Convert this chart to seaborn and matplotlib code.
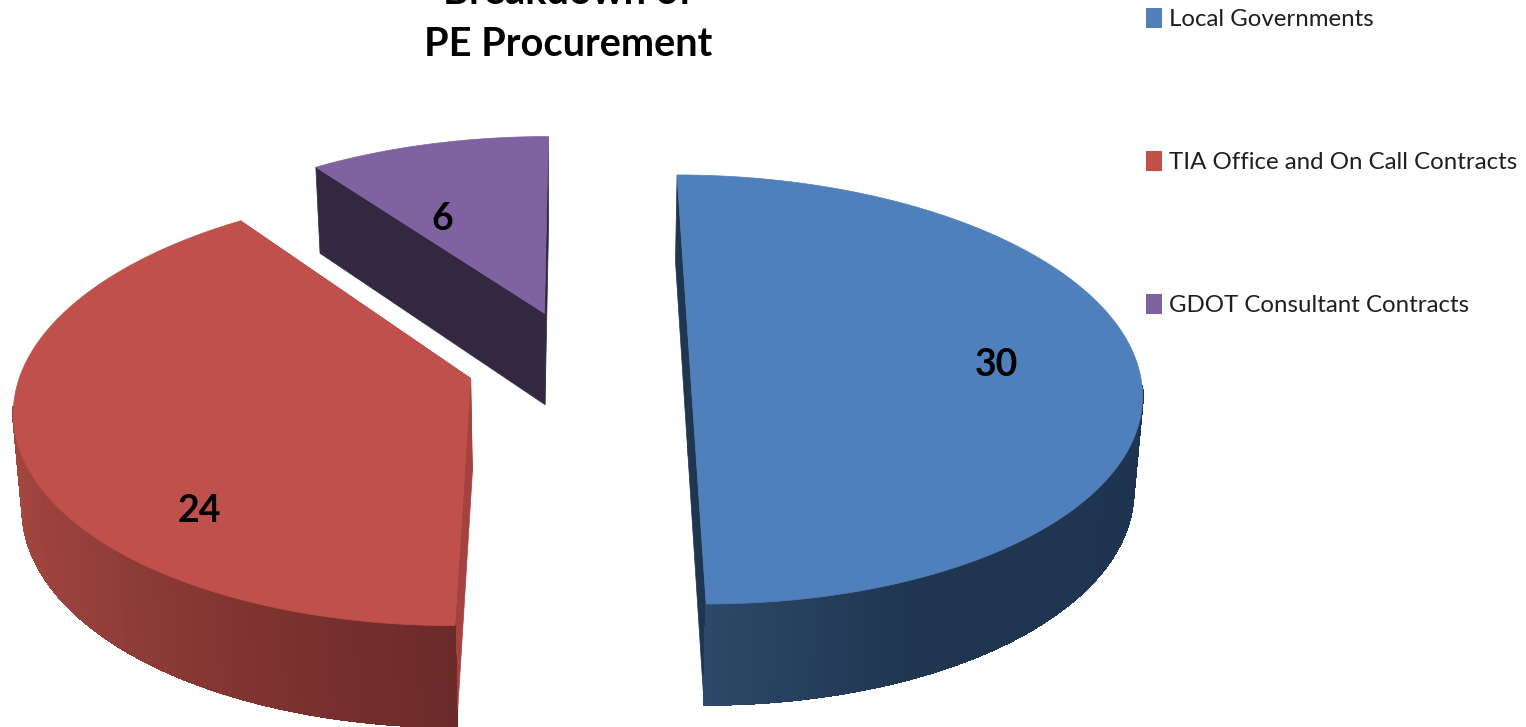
import numpy as np
import matplotlib.pyplot as plt
from matplotlib.collections import LineCollection, PolyCollection
from matplotlib.colors import to_rgb
from matplotlib.patches import Patch
import seaborn as sns

# data
categories = ['Local Governments', 'TIA Office and On Call Contracts', 'GDOT Consultant Contracts']
values = [30, 24, 6]

# style
top_colors = ['#4f80bb', '#bf504c', '#7f62a0']
cut_colors = ['#1f3650', '#a5423f', '#33283f']
rim_angles = [[-90, -65, 0, 90], [-270, -235, -170, -140, -110, -90], [-270, -234]]
rim_shades = [['#2d4868', '#1f3550', '#1e3450', '#1e3450'],
              ['#b04d49', '#b04d49', '#a8473f', '#96403c', '#7c322f', '#6c2a2a'],
              ['#33283f', '#33283f']]
label_xy = [(997, 365), (199, 511), (442, 219)]

# projection of the tilted pie
U0, V0 = 578, 362
A, B, K = 447, 211, 0.128
EXPLODE = 0.25
H, HK = 93, 0.077
BASE_SHRINK = 0.984


def project(x, y, down=False):
    x, y = np.asarray(x, float), np.asarray(y, float)
    w = 1 + K * y
    u = A * x / w
    v = B * y / w
    if down:
        return U0 + u * BASE_SHRINK, V0 - v + H / (1 + HK * y)
    return U0 + u, V0 - v


def shade(t, stops, colors):
    rgb = np.array([to_rgb(c) for c in colors])
    return np.column_stack([np.interp(t, stops, rgb[:, i]) for i in range(3)])


def draw_slice(ax, start, stop, top, cut, stops, colors):
    mid = np.radians((start + stop) / 2)
    ox, oy = EXPLODE * np.cos(mid), EXPLODE * np.sin(mid)
    deg = np.linspace(start, stop, 240)
    t = np.radians(deg)
    ex, ey = ox + np.cos(t), oy + np.sin(t)

    # cut faces
    for i in (0, -1):
        fx, fy = np.array([ox, ex[i]]), np.array([oy, ey[i]])
        up, vp = project(fx, fy)
        ud, vd = project(fx, fy, down=True)
        ax.fill(np.r_[up, ud[::-1]], np.r_[vp, vd[::-1]], color=cut, lw=0.5, zorder=1)

    # rim, split in thin strips so it can carry a gradient; back part is hidden anyway
    up, vp = project(ex, ey)
    ud, vd = project(ex, ey, down=True)
    front = [i for i in range(len(t) - 1) if np.sin(t[i]) < -0.12]
    if front:
        quads = [[(up[i], vp[i]), (up[i + 1], vp[i + 1]), (ud[i + 1], vd[i + 1]), (ud[i], vd[i])] for i in front]
        rim_rgb = shade((deg[:-1] + deg[1:])[front] / 2, stops, colors)
        ax.add_collection(PolyCollection(quads, facecolors=rim_rgb, edgecolors=rim_rgb, linewidths=1,
                                         antialiaseds=False, zorder=1.5))
        # strips are not antialiased, so smooth the lower edge with a thin line
        segs = [[(ud[i], vd[i]), (ud[i + 1], vd[i + 1])] for i in front]
        ax.add_collection(LineCollection(segs, colors=rim_rgb, linewidths=1, zorder=1.6))

    # top face
    tx, ty = project(np.r_[ox, ex], np.r_[oy, ey])
    ax.fill(tx, ty, color=top, lw=0.5, zorder=3)


sns.set_theme(style='white')
plt.rcParams['font.family'] = ['Lato', 'DejaVu Sans']

fig = plt.figure(figsize=(15.26, 7.27), dpi=100)
ax = fig.add_axes([0, 0, 1, 1])
ax.set_xlim(0, 1526)
ax.set_ylim(727, 0)
ax.axis('off')

# slices run clockwise from twelve o'clock
edges = 90 - np.r_[0, np.cumsum(values)] / np.sum(values) * 360
for n in range(len(values)):
    draw_slice(ax, edges[n + 1], edges[n], top_colors[n], cut_colors[n], rim_angles[n], rim_shades[n])

for val, (lx, ly) in zip(values, label_xy):
    ax.text(lx, ly, str(val), ha='center', va='center', fontsize=27, fontweight='bold', color='black', zorder=5)

ax.text(568, 44, 'PE Procurement', ha='center', va='center', fontsize=28.6, fontweight='bold', color='black')
ax.text(568, -7, 'Breakdown of', ha='center', va='center', fontsize=28.6, fontweight='bold', color='black', clip_on=False)

handles = [Patch(facecolor=c, edgecolor='none') for c in top_colors]
ax.legend(handles, categories, loc='upper left', bbox_to_anchor=(1146 / 1526, 1 - 8 / 727),
          bbox_transform=fig.transFigure, frameon=False, fontsize=17.3, labelspacing=5.02,
          handlelength=0.67, handleheight=0.9, handletextpad=0.3, borderaxespad=0, borderpad=0,
          labelcolor='#1f1f1f')

plt.savefig('out.png', dpi=100)
